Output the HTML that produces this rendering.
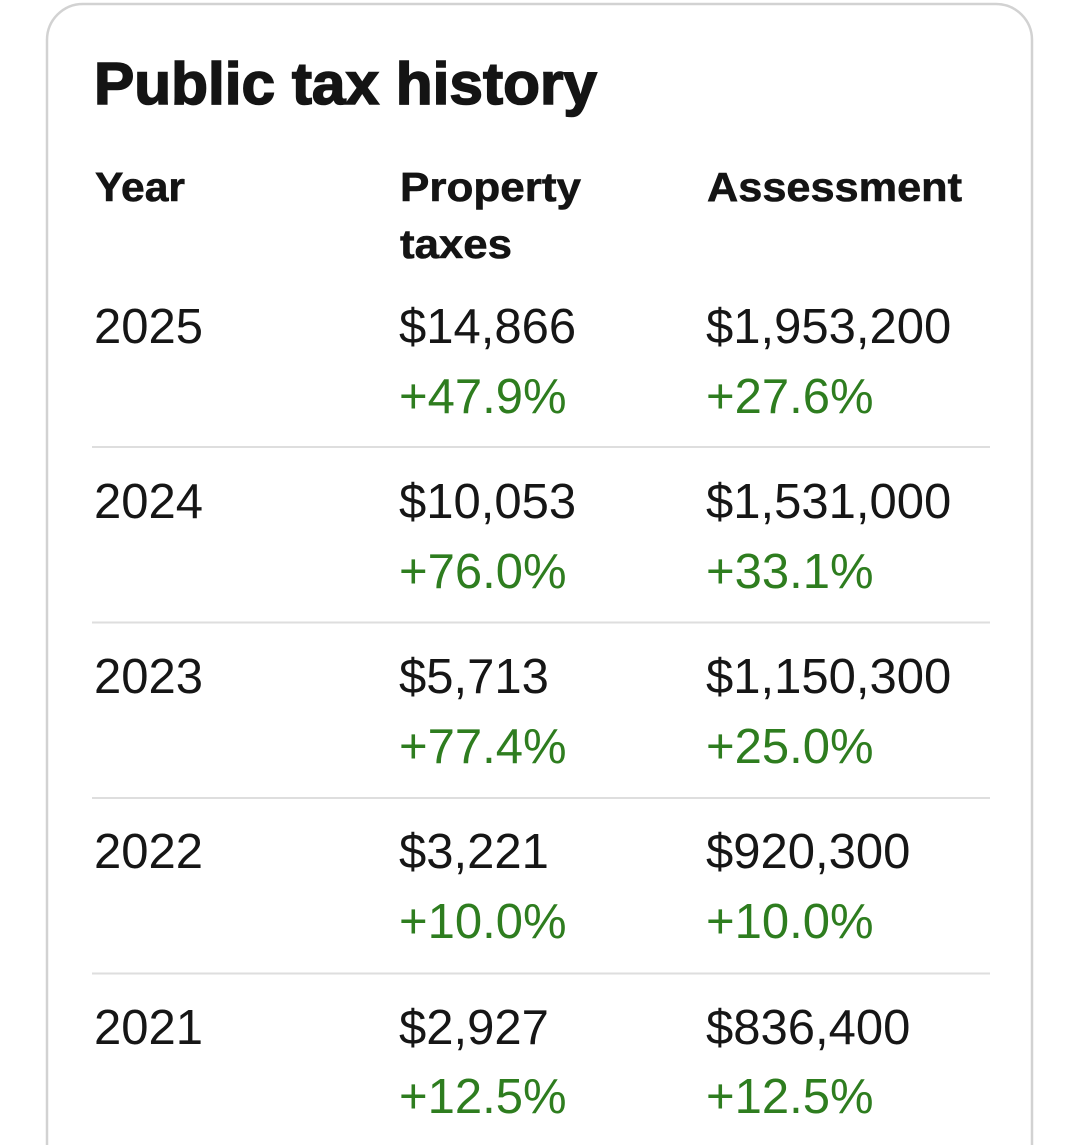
<!DOCTYPE html>
<html>
<head>
<meta charset="utf-8">
<style>
  html,body{margin:0;padding:0;background:#fff;}
  body{width:1080px;height:1145px;overflow:hidden;}
  svg{display:block;}
  text{font-family:"Liberation Sans",Arial,sans-serif;}
  .h{font-weight:bold;fill:#141414;stroke:#141414;}
  .d{fill:#161616;font-size:49px;}
  .g{fill:#2e7d1f;font-size:49px;}
</style>
</head>
<body>
<svg width="1080" height="1145" viewBox="0 0 1080 1145" xmlns="http://www.w3.org/2000/svg">
  <rect x="0" y="0" width="1080" height="1145" fill="#ffffff"/>
  <path d="M47,1145 V40 A36,36 0 0 1 83,4 H996 A36,36 0 0 1 1032,40 V1145" fill="none" stroke="#d2d2d2" stroke-width="2.5"/>

  <text class="h" x="94" y="104" font-size="59" stroke-width="1.6" textLength="503" lengthAdjust="spacingAndGlyphs">Public tax history</text>

  <text class="h" x="95" y="201" font-size="41" stroke-width="0.6" textLength="90" lengthAdjust="spacingAndGlyphs">Year</text>
  <text class="h" x="400" y="201" font-size="41" stroke-width="0.6" textLength="181" lengthAdjust="spacingAndGlyphs">Property</text>
  <text class="h" x="400" y="258" font-size="41" stroke-width="0.6" textLength="112" lengthAdjust="spacingAndGlyphs">taxes</text>
  <text class="h" x="707" y="201" font-size="41" stroke-width="0.6" textLength="255" lengthAdjust="spacingAndGlyphs">Assessment</text>

  <!-- 2025 -->
  <text class="d" x="94" y="343">2025</text>
  <text class="d" x="399" y="343">$14,866</text>
  <text class="g" x="399" y="413">+47.9%</text>
  <text class="d" x="706" y="343">$1,953,200</text>
  <text class="g" x="706" y="413">+27.6%</text>
  <line x1="92" y1="447" x2="990" y2="447" stroke="#dedede" stroke-width="2"/>

  <!-- 2024 -->
  <text class="d" x="94" y="518">2024</text>
  <text class="d" x="399" y="518">$10,053</text>
  <text class="g" x="399" y="588">+76.0%</text>
  <text class="d" x="706" y="518">$1,531,000</text>
  <text class="g" x="706" y="588">+33.1%</text>
  <line x1="92" y1="622.5" x2="990" y2="622.5" stroke="#dedede" stroke-width="2"/>

  <!-- 2023 -->
  <text class="d" x="94" y="693">2023</text>
  <text class="d" x="399" y="693">$5,713</text>
  <text class="g" x="399" y="763">+77.4%</text>
  <text class="d" x="706" y="693">$1,150,300</text>
  <text class="g" x="706" y="763">+25.0%</text>
  <line x1="92" y1="798" x2="990" y2="798" stroke="#dedede" stroke-width="2"/>

  <!-- 2022 -->
  <text class="d" x="94" y="868">2022</text>
  <text class="d" x="399" y="868">$3,221</text>
  <text class="g" x="399" y="938">+10.0%</text>
  <text class="d" x="706" y="868">$920,300</text>
  <text class="g" x="706" y="938">+10.0%</text>
  <line x1="92" y1="973.5" x2="990" y2="973.5" stroke="#dedede" stroke-width="2"/>

  <!-- 2021 -->
  <text class="d" x="94" y="1044">2021</text>
  <text class="d" x="399" y="1044">$2,927</text>
  <text class="g" x="399" y="1113">+12.5%</text>
  <text class="d" x="706" y="1044">$836,400</text>
  <text class="g" x="706" y="1113">+12.5%</text>
</svg>
</body>
</html>
